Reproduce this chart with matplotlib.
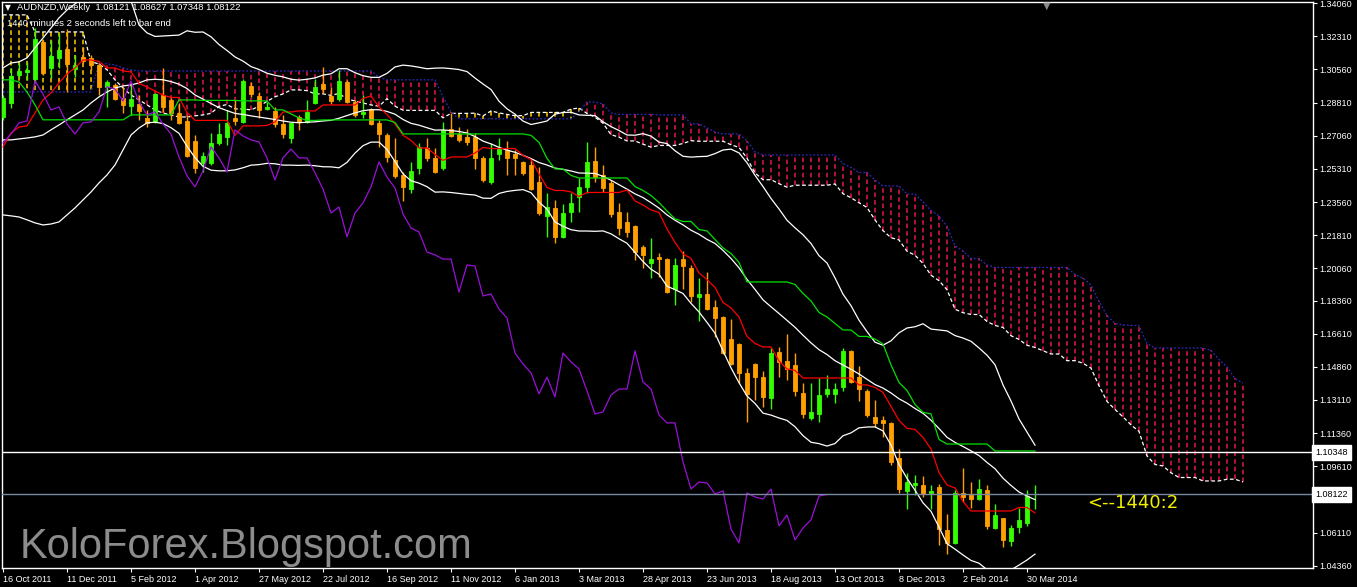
import numpy as np
import pandas as pd
import matplotlib
matplotlib.use("Agg")
import matplotlib.pyplot as plt
from matplotlib.transforms import blended_transform_factory

# AUDNZD weekly candles, bar 0 = week of 16 Oct 2011
opens = [
    1.2805, 1.2879, 1.3027, 1.3043, 1.3006, 1.3201, 1.3064, 1.3117, 1.3164, 1.3059,
    1.3122, 1.3117, 1.3080, 1.2964, 1.2974, 1.2906, 1.2863, 1.2874, 1.2800, 1.2779,
    1.2921, 1.2895, 1.2826, 1.2784, 1.2679, 1.2562, 1.2562, 1.2668, 1.2700, 1.2800,
    1.2779, 1.2969, 1.2916, 1.2848, 1.2837, 1.2768, 1.2694, 1.2805, 1.2779, 1.2879,
    1.2980, 1.2916, 1.2900, 1.2990, 1.2884, 1.2821, 1.2848, 1.2774, 1.2710, 1.2578,
    1.2499, 1.2425, 1.2536, 1.2641, 1.2589, 1.2536, 1.2742, 1.2715, 1.2700, 1.2700,
    1.2589, 1.2462, 1.2610, 1.2631, 1.2610, 1.2568, 1.2552, 1.2462, 1.2283, 1.2325,
    1.2172, 1.2304, 1.2383, 1.2436, 1.2573, 1.2499, 1.2457, 1.2304, 1.2251, 1.2230,
    1.2119, 1.2034, 1.2066, 1.2055, 1.1897, 1.2055, 1.2008, 1.1855, 1.1871, 1.1802,
    1.1749, 1.1633, 1.1607, 1.1454, 1.1501, 1.1432, 1.1322, 1.1565, 1.1517, 1.1496,
    1.1348, 1.1216, 1.1237, 1.1343, 1.1343, 1.1380, 1.1570, 1.1432, 1.1359, 1.1221,
    1.1206, 1.1190, 1.1005, 1.0831, 1.0862, 1.0862, 1.0820, 1.0852, 1.0625, 1.0556,
    1.0820, 1.0809, 1.0788, 1.0836, 1.0635, 1.0688, 1.0567, 1.0641, 1.0662, 1.08121,
]
highs = [
    1.2921, 1.3064, 1.3090, 1.3096, 1.3275, 1.3212, 1.3212, 1.3249, 1.3270, 1.3133,
    1.3175, 1.3133, 1.3090, 1.3001, 1.2985, 1.2964, 1.2974, 1.2921, 1.2842, 1.2932,
    1.3064, 1.2906, 1.2879, 1.2816, 1.2710, 1.2620, 1.2721, 1.2774, 1.2842, 1.2895,
    1.3006, 1.2990, 1.2937, 1.2884, 1.2858, 1.2816, 1.2779, 1.2816, 1.2895, 1.3006,
    1.3069, 1.2964, 1.3054, 1.3001, 1.2895, 1.2921, 1.2853, 1.2790, 1.2721, 1.2694,
    1.2515, 1.2568, 1.2668, 1.2694, 1.2641, 1.2779, 1.2826, 1.2752, 1.2742, 1.2721,
    1.2599, 1.2668, 1.2694, 1.2679, 1.2631, 1.2573, 1.2589, 1.2541, 1.2404, 1.2367,
    1.2346, 1.2404, 1.2483, 1.2673, 1.2647, 1.2552, 1.2473, 1.2351, 1.2304, 1.2235,
    1.2129, 1.2166, 1.2087, 1.2061, 1.2061, 1.2098, 1.2024, 1.1955, 1.1987, 1.1839,
    1.1755, 1.1739, 1.1612, 1.1480, 1.1506, 1.1464, 1.1586, 1.1591, 1.1659, 1.1559,
    1.1401, 1.1401, 1.1427, 1.1443, 1.1401, 1.1586, 1.1575, 1.1491, 1.1369, 1.1311,
    1.1227, 1.1195, 1.1052, 1.0926, 1.0915, 1.0910, 1.0862, 1.0867, 1.0709, 1.0836,
    1.0952, 1.0878, 1.0894, 1.0862, 1.0762, 1.0688, 1.0651, 1.0741, 1.0836, 1.08627,
]
lows = [
    1.2790, 1.2853, 1.3011, 1.3001, 1.2985, 1.3027, 1.3011, 1.3064, 1.2937, 1.3016,
    1.3090, 1.3054, 1.2921, 1.2858, 1.2895, 1.2826, 1.2816, 1.2790, 1.2752, 1.2774,
    1.2832, 1.2790, 1.2768, 1.2594, 1.2510, 1.2515, 1.2552, 1.2657, 1.2657, 1.2763,
    1.2774, 1.2911, 1.2800, 1.2842, 1.2752, 1.2694, 1.2668, 1.2737, 1.2774, 1.2874,
    1.2932, 1.2874, 1.2890, 1.2879, 1.2805, 1.2800, 1.2763, 1.2647, 1.2568, 1.2483,
    1.2362, 1.2404, 1.2504, 1.2573, 1.2510, 1.2526, 1.2700, 1.2673, 1.2657, 1.2531,
    1.2462, 1.2451, 1.2578, 1.2499, 1.2499, 1.2499, 1.2420, 1.2288, 1.2172, 1.2140,
    1.2166, 1.2251, 1.2304, 1.2404, 1.2462, 1.2409, 1.2277, 1.2182, 1.2172, 1.2050,
    1.2008, 1.1955, 1.1960, 1.1876, 1.1813, 1.1897, 1.1828, 1.1728, 1.1786, 1.1644,
    1.1554, 1.1496, 1.1401, 1.1195, 1.1311, 1.1274, 1.1264, 1.1432, 1.1417, 1.1332,
    1.1216, 1.1206, 1.1195, 1.1327, 1.1295, 1.1359, 1.1401, 1.1306, 1.1221, 1.1168,
    1.1116, 1.0968, 1.0820, 1.0736, 1.0809, 1.0799, 1.0736, 1.0546, 1.0498, 1.0551,
    1.0772, 1.0741, 1.0783, 1.0630, 1.0630, 1.0535, 1.0540, 1.0609, 1.0646, 1.07348,
]
closes = [
    1.2906, 1.3022, 1.3048, 1.3054, 1.3217, 1.3038, 1.3127, 1.3159, 1.3085, 1.3080,
    1.3101, 1.3080, 1.2964, 1.2990, 1.2900, 1.2869, 1.2900, 1.2837, 1.2774, 1.2927,
    1.2858, 1.2826, 1.2774, 1.2599, 1.2536, 1.2599, 1.2668, 1.2715, 1.2774, 1.2784,
    1.2995, 1.2927, 1.2842, 1.2858, 1.2768, 1.2715, 1.2774, 1.2779, 1.2832, 1.2964,
    1.2953, 1.2890, 1.2995, 1.2884, 1.2816, 1.2832, 1.2768, 1.2715, 1.2594, 1.2494,
    1.2436, 1.2520, 1.2647, 1.2589, 1.2515, 1.2737, 1.2705, 1.2684, 1.2673, 1.2589,
    1.2473, 1.2589, 1.2636, 1.2589, 1.2589, 1.2510, 1.2425, 1.2298, 1.2330, 1.2172,
    1.2298, 1.2351, 1.2436, 1.2568, 1.2488, 1.2430, 1.2293, 1.2219, 1.2198, 1.2092,
    1.2077, 1.2055, 1.2055, 1.1881, 1.2024, 1.2018, 1.1860, 1.1871, 1.1791, 1.1744,
    1.1559, 1.1501, 1.1454, 1.1343, 1.1432, 1.1327, 1.1559, 1.1512, 1.1475, 1.1359,
    1.1237, 1.1248, 1.1337, 1.1369, 1.1369, 1.1570, 1.1406, 1.1369, 1.1232, 1.1190,
    1.1190, 1.0984, 1.0841, 1.0878, 1.0873, 1.0815, 1.0831, 1.0630, 1.0556, 1.0820,
    1.0799, 1.0788, 1.0841, 1.0646, 1.0704, 1.0572, 1.0635, 1.0678, 1.0804, 1.08122,
]

date_labels = ["16 Oct 2011", "11 Dec 2011", "5 Feb 2012", "1 Apr 2012", "27 May 2012",
               "22 Jul 2012", "16 Sep 2012", "11 Nov 2012", "6 Jan 2013", "3 Mar 2013",
               "28 Apr 2013", "23 Jun 2013", "18 Aug 2013", "13 Oct 2013", "8 Dec 2013",
               "2 Feb 2014", "30 Mar 2014"]
price_ticks = [1.34060, 1.32310, 1.30560, 1.28810, 1.27060, 1.25310, 1.23560, 1.21810,
               1.20060, 1.18360, 1.16610, 1.14860, 1.13110, 1.11360, 1.09610, 1.07860,
               1.06110, 1.04360]

# indicator values for the first bars, where the history is off screen
tenkan_head = [1.2647, 1.2721, 1.2752, 1.2758, 1.2826, 1.2895, 1.2932, 1.2985]
kijun_head = [1.3001, 1.3001, 1.2990, 1.2937, 1.2869, 1.2790, 1.2790, 1.2790, 1.2790,
              1.2790, 1.2790, 1.2790, 1.2790, 1.2790, 1.2790, 1.2790, 1.2816, 1.2816,
              1.2816, 1.2816, 1.2816, 1.2816, 1.2895, 1.2895, 1.2895]
bb_upper_head = [1.3064, 1.3090, 1.3096, 1.3117, 1.3170, 1.3222, 1.3275, 1.3328, 1.3370,
                 1.3402, 1.3434, 1.3455, 1.3465, 1.3465, 1.3455, 1.3439, 1.3418, 1.3291,
                 1.3249]
bb_mid_head = [1.2684, 1.2684, 1.2689, 1.2694, 1.2700, 1.2710, 1.2737, 1.2763, 1.2790,
               1.2816, 1.2842, 1.2879, 1.2911, 1.2937, 1.2958, 1.2969, 1.2974, 1.2985,
               1.3001]
bb_lower_head = [1.2288, 1.2283, 1.2277, 1.2262, 1.2246, 1.2235, 1.2240, 1.2251, 1.2288,
                 1.2325, 1.2367, 1.2409, 1.2457, 1.2499, 1.2552, 1.2631, 1.2710, 1.2747,
                 1.2774]
span_a_head = [1.3344, 1.3344, 1.3344, 1.3344, 1.3254, 1.3254, 1.3254, 1.3254, 1.3254,
               1.3254, 1.3254, 1.3096, 1.3085, 1.3054, 1.3001, 1.2958, 1.2921, 1.2895,
               1.2869, 1.2842, 1.2826, 1.2816, 1.2805, 1.2805, 1.2811, 1.2816]
span_b_head = ([1.2937] * 12 + [1.3090, 1.3085, 1.3080, 1.3064, 1.3054] + [1.3048] * 30
               + [1.3016] + [1.3001] * 7 + [1.2911, 1.2832] + [1.2795] * 15
               + [1.2832, 1.2884, 1.2884, 1.2874, 1.2826])

level_line = 1.10348
bid_line = 1.08122

n = len(closes)
shift = 26
x = np.arange(n)
o = np.array(opens)
h = np.array(highs)
l = np.array(lows)
c = np.array(closes)

hi = pd.Series(h)
lo = pd.Series(l)
cl = pd.Series(c)

tenkan = ((hi.rolling(9).max() + lo.rolling(9).min()) / 2).to_numpy()
tenkan[:len(tenkan_head)] = tenkan_head
kijun = ((hi.rolling(26).max() + lo.rolling(26).min()) / 2).to_numpy()
kijun[:len(kijun_head)] = kijun_head

bb_mid = cl.rolling(20).mean().to_numpy()
bb_sd = cl.rolling(20).std(ddof=0).to_numpy()
bb_up = bb_mid + 2 * bb_sd
bb_dn = bb_mid - 2 * bb_sd
k = len(bb_mid_head)
bb_up[:k] = bb_upper_head
bb_mid[:k] = bb_mid_head
bb_dn[:k] = bb_lower_head

span_a = np.full(n + shift, np.nan)
span_a[shift:] = (tenkan + kijun) / 2
span_a[:shift] = span_a_head
span_b = np.full(n + shift, np.nan)
span_b[shift:] = ((hi.rolling(52).max() + lo.rolling(52).min()) / 2).to_numpy()
span_b[:len(span_b_head)] = span_b_head
xc = np.arange(n + shift)

chikou = c[shift:]

plt.rcParams["font.family"] = ["Liberation Sans", "DejaVu Sans"]

fig = plt.figure(figsize=(13.57, 5.87), dpi=100, facecolor="black")
ax = fig.add_axes([2 / 1357, 19 / 587, 1311 / 1357, 566 / 587], facecolor="black")

# kumo
bear = span_b > span_a
ax.vlines(xc[bear], span_a[bear], span_b[bear], colors="#e8184c",
          linestyles=(0, (3, 2)), lw=1.1, zorder=1)
ax.vlines(xc[~bear], span_a[~bear], span_b[~bear], colors="#ffcc00",
          linestyles=(0, (3, 2)), lw=1.1, zorder=1)
ax.plot(xc, span_a, color="white", lw=0.9, ls=(0, (3, 2)), zorder=2)
ax.plot(xc, span_b, color="#2a2ac0", lw=0.9, ls=(0, (1.5, 1.5)), zorder=2)

# candles
up = c >= o
col = np.where(up, "#33ff00", "#ffa000")
ax.vlines(x, l, h, colors=col, lw=1, zorder=3)
ax.bar(x, np.abs(c - o), bottom=np.minimum(o, c), width=0.62, color=col,
       edgecolor=col, lw=0.6, zorder=4)

# indicators
ax.plot(x, bb_up, color="white", lw=0.9, zorder=5)
ax.plot(x, bb_mid, color="white", lw=0.9, zorder=5)
ax.plot(x, bb_dn, color="white", lw=0.9, zorder=5)
ax.plot(x, tenkan, color="#ff0000", lw=0.9, zorder=6)
ax.plot(x, kijun, color="#00e000", lw=0.9, zorder=6)
ax.plot(np.arange(len(chikou)), chikou, color="#9a10d8", lw=0.9, zorder=6)

ax.axhline(level_line, color="white", lw=1, zorder=7)
ax.axhline(bid_line, color="#7888a0", lw=1, zorder=7)

ax.set_xlim(-0.125, 163.75)
ax.set_ylim(1.0424, 1.3412)

for s in ax.spines.values():
    s.set_color("white")
    s.set_linewidth(1)

ax.yaxis.tick_right()
ax.set_yticks(price_ticks)
ax.set_yticklabels([f"{v:.5f}" for v in price_ticks])
ax.set_xticks(np.arange(0, 8 * len(date_labels), 8))
ax.set_xticklabels(date_labels)
for lbl in ax.get_xticklabels():
    lbl.set_horizontalalignment("left")
ax.tick_params(colors="white", labelsize=6.5, length=3, width=0.8)
ax.tick_params(axis="y", pad=1.5)
ax.tick_params(axis="x", pad=2)

trans = blended_transform_factory(ax.transAxes, ax.transData)
for v in (level_line, bid_line):
    ax.text(1.0015, v, f"{v:.5f}", transform=trans, ha="left", va="center",
            fontsize=6.5, color="black", zorder=10, clip_on=False,
            bbox=dict(boxstyle="square,pad=0.35", fc="white", ec="white"))

fig.text(5 / 1357, 1 - 8 / 587, "\u25bc", fontsize=5.5, color="white", va="center",
         family="DejaVu Sans")
fig.text(17 / 1357, 1 - 8 / 587,
         f"AUDNZD,Weekly  {opens[-1]:.5f} {highs[-1]:.5f} {lows[-1]:.5f} {closes[-1]:.5f}",
         fontsize=6.8, color="white", va="center")
fig.text(7 / 1357, 1 - 23 / 587, "1440 minutes 2 seconds left to bar end",
         fontsize=6.8, color="white", va="center")
fig.text(1047 / 1357, 1 - 6 / 587, "\u25bc", fontsize=7, color="#8c8c8c",
         ha="center", va="center", family="DejaVu Sans")
fig.text(20 / 1357, 29 / 587, "KoloForex.Blogspot.com", fontsize=30,
         color="#8c8c8c", va="baseline")
fig.text(1087 / 1357, 1 - 503 / 587, "<--1440:2", fontsize=13, color="#f0f000",
         va="center", family="DejaVu Sans")

fig.savefig("out.png", dpi=100, facecolor="black")
